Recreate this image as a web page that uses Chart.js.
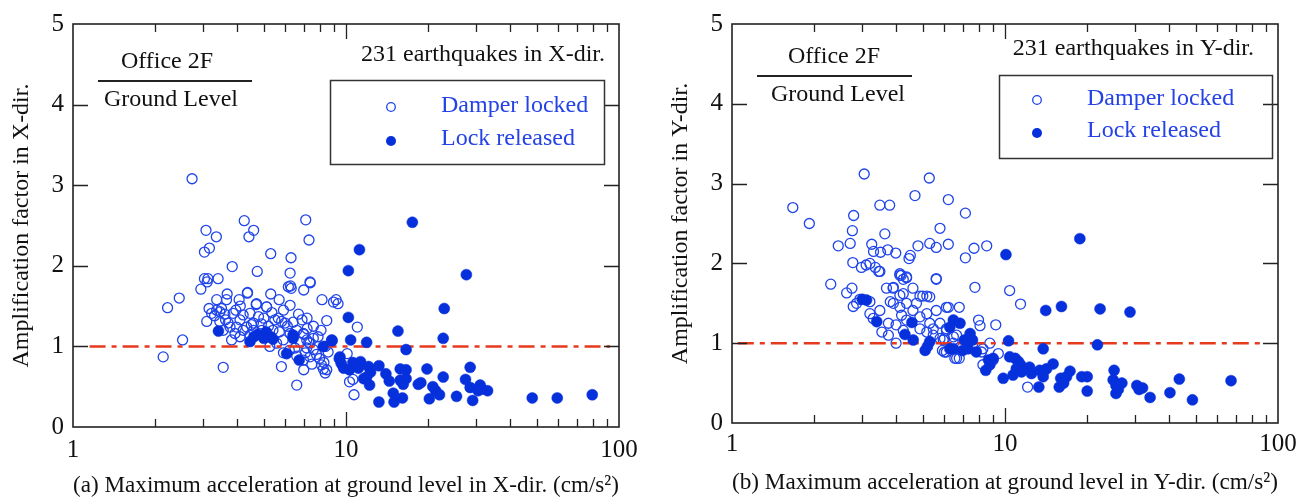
<!DOCTYPE html>
<html>
<head>
<meta charset="utf-8">
<script src="https://cdn.jsdelivr.net/npm/chart.js@4.4.1/dist/chart.umd.min.js"></script>
<style>
  html, body { margin: 0; padding: 0; background: #fff; }
  canvas { position: absolute; top: 0; }
  #chartX { left: 0; }
  #chartY { left: 655px; }
</style>
</head>
<body>
<canvas id="chartX" width="655" height="500"></canvas>
<canvas id="chartY" width="654" height="500"></canvas>
<script>
// [max ground acceleration (cm/s2), amplification factor]
const lockedX = [
    [2.73,3.08],[4.24,2.56],[7.12,2.57],[3.07,2.44],[3.35,2.36],[4.59,2.44],[4.41,2.36],[7.32,2.32],[3.16,2.22],[3.03,2.17],
    [5.30,2.15],[6.29,2.10],[3.83,1.99],[4.73,1.93],[6.24,1.91],[3.03,1.84],[3.12,1.84],[3.40,1.84],[3.10,1.80],[2.94,1.71],
    [6.26,1.75],[6.30,1.72],[7.38,1.80],[7.00,1.70],[2.45,1.60],[2.22,1.48],[3.67,1.65],[3.36,1.58],[3.65,1.58],[4.06,1.58],
    [4.36,1.67],[5.30,1.65],[5.69,1.58],[4.69,1.52],[5.12,1.49],[6.24,1.51],[8.17,1.58],[9.00,1.55],[9.20,1.58],[9.35,1.53],
    [2.52,1.08],[2.14,0.87],[3.55,0.74],[6.60,0.52],[3.09,1.31],[3.15,1.47],[3.22,1.41],[3.36,1.45],[3.45,1.43],[3.50,1.47],
    [3.45,1.31],[3.62,1.33],[3.70,1.29],[3.81,1.08],[3.86,1.41],[3.97,1.24],[4.09,1.33],[4.20,1.39],[4.33,1.24],[4.45,1.41],
    [4.58,1.29],[4.78,1.37],[4.92,1.20],[5.12,1.49],[4.70,1.53],[4.35,1.66],[5.49,1.33],[5.65,1.35],[5.81,1.31],[5.98,1.29],
    [5.57,1.04],[5.89,1.08],[6.24,1.16],[6.60,1.20],[6.98,1.16],[7.18,1.08],[7.38,1.04],[7.59,1.10],[7.18,0.98],[7.59,0.96],
    [7.38,0.87],[6.98,0.83],[5.80,0.75],[7.00,0.71],[8.13,0.77],[8.26,0.72],[8.39,0.67],[6.15,1.74],[8.50,1.32],[3.55,1.20],
    [3.76,1.24],[3.92,1.16],[4.20,1.20],[4.58,1.20],[4.09,1.12],[4.45,1.14],[5.26,1.00],[7.00,1.15],[7.30,1.05],[7.80,0.90],
    [8.00,0.85],[8.30,0.80],[7.20,1.22],[7.90,1.12],[8.40,1.00],[7.50,0.78],[8.60,0.93],[10.1,0.91],[10.3,0.56],[10.6,0.59],
    [10.7,0.40],[11.0,1.24],[8.50,0.71],[7.40,1.79],[4.90,1.28],[5.20,1.25],[5.40,1.20],[5.70,1.18],[6.10,1.25],[6.40,1.30],
    [6.80,1.05],[6.50,0.98],[6.20,0.95],[5.90,0.92],[6.60,0.88],[7.10,0.92],[3.30,1.38],[3.60,1.40],[3.95,1.45],[4.10,1.50],
    [4.50,1.27],[5.00,1.35],[5.35,1.42],[5.90,1.45],[6.70,1.40],[6.90,1.33],[7.60,1.25],[8.10,1.20],[7.20,1.35]
];
const releasedX = [
    [17.5,2.54],[11.2,2.20],[10.2,1.94],[27.6,1.89],[22.9,1.47],[10.2,1.36],[15.5,1.19],[22.7,1.10],[8.89,1.07],[10.4,1.08],
    [11.9,1.05],[16.6,0.96],[9.50,0.87],[9.60,0.79],[10.6,0.80],[11.3,0.81],[11.1,0.73],[12.1,0.75],[13.2,0.76],[12.3,0.68],
    [9.80,0.73],[10.3,0.71],[11.6,0.60],[11.9,0.62],[12.2,0.52],[14.0,0.66],[14.4,0.57],[15.8,0.72],[16.6,0.71],[15.8,0.58],
    [16.6,0.60],[16.2,0.53],[14.9,0.42],[16.1,0.36],[15.0,0.31],[13.2,0.31],[18.4,0.53],[18.8,0.55],[19.8,0.72],[20.8,0.50],
    [21.3,0.45],[22.0,0.40],[20.2,0.35],[22.7,0.62],[25.4,0.38],[27.4,0.59],[28.5,0.74],[28.5,0.49],[29.1,0.33],[31.0,0.52],
    [31.5,0.47],[33.0,0.45],[30.5,0.45],[48.1,0.36],[59.4,0.36],[79.8,0.40],[3.41,1.19],[4.45,1.06],[4.75,1.15],[5.10,1.18],
    [5.30,1.12],[5.40,1.09],[6.40,1.14],[6.40,1.10],[6.06,0.91],[6.74,0.83],[8.87,1.08],[8.26,1.00],[9.45,0.85],[4.60,1.12],
    [5.00,1.10]
];
const lockedY = [
    [1.67,2.70],[1.92,2.50],[3.05,3.12],[3.48,2.73],[3.78,2.73],[2.79,2.60],[2.76,2.41],[3.63,2.37],[2.45,2.22],[2.71,2.25],
    [3.25,2.24],[3.30,2.15],[3.50,2.14],[3.72,2.17],[3.98,2.13],[2.77,2.01],[2.98,1.95],[3.10,1.98],[3.20,2.00],[3.35,1.95],
    [3.45,1.90],[2.30,1.74],[2.63,1.63],[2.75,1.69],[3.68,1.69],[3.89,1.69],[4.12,1.87],[5.28,3.07],[4.68,2.85],[6.20,2.80],
    [7.16,2.63],[5.78,2.44],[4.80,2.22],[5.30,2.25],[5.60,2.20],[6.20,2.24],[7.70,2.19],[8.57,2.22],[7.16,2.07],[4.50,2.10],
    [4.45,2.06],[3.48,1.90],[4.17,1.85],[4.36,1.82],[4.24,1.80],[5.60,1.80],[7.76,1.70],[10.4,1.66],[4.60,1.69],[11.4,1.49],
    [9.25,1.23],[8.00,1.29],[8.10,1.22],[6.80,1.45],[6.20,1.45],[2.78,1.46],[2.86,1.50],[2.94,1.55],[3.20,1.52],[3.20,1.37],
    [3.29,1.31],[3.48,1.41],[3.54,1.14],[3.74,1.10],[3.74,1.25],[3.99,1.00],[3.90,1.70],[4.12,1.60],[4.24,1.62],[4.88,1.59],
    [5.00,1.59],[5.17,1.59],[5.30,1.58],[5.60,1.81],[4.12,1.85],[4.36,1.83],[5.60,1.41],[6.10,1.45],[5.78,1.25],[5.46,1.18],
    [6.10,1.18],[5.90,0.91],[6.10,0.89],[6.65,0.81],[3.80,1.52],[3.90,1.50],[4.12,1.45],[4.36,1.50],[4.60,1.41],[4.74,1.50],
    [4.88,1.33],[5.17,1.37],[5.30,1.25],[4.18,1.35],[4.36,1.29],[3.99,1.23],[4.24,1.16],[4.88,1.18],[5.17,1.14],[5.46,1.10],
    [5.78,1.06],[6.00,1.06],[6.47,1.08],[6.47,1.00],[6.84,0.95],[6.10,1.16],[6.65,1.10],[6.55,0.81],[6.80,0.81],[6.00,0.89],
    [8.20,0.89],[8.30,0.73],[9.05,0.79],[9.45,0.87],[12.1,0.45],[8.80,1.00],[7.60,0.98],[8.30,0.93],[5.94,1.04]
];
const releasedY = [
    [10.08,2.11],[18.8,2.31],[14.1,1.41],[16.1,1.46],[22.3,1.43],[28.7,1.39],[10.3,1.03],[13.8,0.93],[21.8,0.98],[3.11,1.54],
    [3.00,1.55],[3.39,1.27],[4.30,1.11],[4.56,1.26],[4.61,1.04],[5.10,0.91],[5.20,0.96],[5.30,1.02],[6.47,1.29],[6.28,0.93],
    [6.84,1.25],[6.28,1.20],[7.45,1.12],[7.60,1.04],[7.33,0.93],[6.47,0.93],[7.00,0.91],[7.85,0.89],[7.10,1.04],[8.70,0.79],
    [9.05,0.81],[8.50,0.66],[8.80,0.73],[9.85,0.56],[10.4,0.83],[10.9,0.81],[11.2,0.77],[11.4,0.73],[10.7,0.60],[11.5,0.64],
    [11.0,0.68],[13.3,0.45],[12.3,0.70],[12.5,0.62],[13.4,0.66],[13.8,0.58],[14.2,0.68],[15.0,0.74],[13.8,0.64],[17.3,0.65],
    [16.8,0.58],[16.0,0.56],[15.8,0.45],[16.4,0.50],[19.1,0.58],[20.0,0.58],[20.0,0.40],[25.1,0.66],[24.9,0.54],[25.5,0.37],
    [26.8,0.50],[26.0,0.42],[25.5,0.47],[30.4,0.47],[31.9,0.44],[31.0,0.42],[34.0,0.32],[40.2,0.38],[43.5,0.55],[48.6,0.29],
    [67.3,0.53]
];
const refLineX = [1.15, 92.7];
const refLineY = [1.05, 89.6];
const xTickLabels = [1, 10, 100];
const minorTicks = [2,3,4,5,6,7,8,9,10,20,30,40,50,60,70,80,90];
const yTicks = [1, 2, 3, 4];

const SERIF = '"Liberation Serif", "Times New Roman", serif';
const BLUE_OPEN = '#1f44ea';
const BLUE_FILL = '#0630dc';
const RED = '#e63a1e';

const toPts = arr => arr.map(p => ({ x: p[0], y: p[1] }));

// frame, inward ticks and the text boxes drawn on the plot
const decor = {
    id: 'decor',
    afterDraw(chart, args, o) {
        const ctx = chart.ctx;
        const { left, right, top, bottom } = chart.chartArea;
        const xs = chart.scales.x, ys = chart.scales.y;
        ctx.save();
        ctx.strokeStyle = '#222';
        ctx.lineWidth = 1.3;
        ctx.beginPath();
        minorTicks.forEach(v => {
            const px = Math.round(xs.getPixelForValue(v)) + 0.5;
            const len = v === 10 ? 15 : 8;
            ctx.moveTo(px, bottom); ctx.lineTo(px, bottom - len);
            ctx.moveTo(px, top); ctx.lineTo(px, top + len);
        });
        yTicks.forEach(v => {
            const py = Math.round(ys.getPixelForValue(v)) + 0.5;
            ctx.moveTo(left, py); ctx.lineTo(left + 15, py);
            ctx.moveTo(right, py); ctx.lineTo(right - 15, py);
        });
        ctx.stroke();
        ctx.lineWidth = 1.6;
        ctx.strokeRect(left, top, right - left, bottom - top);

        ctx.font = '24px ' + SERIF;
        ctx.fillStyle = '#111';
        ctx.textBaseline = 'middle';
        ctx.textAlign = 'center';
        ctx.fillText('Office 2F', o.ratio.x, o.ratio.y);
        ctx.lineWidth = 2;
        ctx.beginPath();
        ctx.moveTo(o.ratio.x1, o.ratio.ly); ctx.lineTo(o.ratio.x2, o.ratio.ly);
        ctx.stroke();
        ctx.fillText('Ground Level', o.ratio.x + 4, o.ratio.y + 38);
        ctx.textAlign = 'right';
        ctx.fillText(o.count.text, o.count.x, o.count.y);

        const b = o.box;
        ctx.lineWidth = 1.5;
        ctx.strokeStyle = '#333';
        ctx.strokeRect(b.x + 0.5, b.y + 0.5, b.w, b.h);
        ctx.strokeStyle = BLUE_OPEN;
        ctx.lineWidth = 1.3;
        ctx.beginPath();
        ctx.arc(b.x + b.mx, b.y + b.r1, 4.3, 0, Math.PI * 2);
        ctx.stroke();
        ctx.fillStyle = BLUE_FILL;
        ctx.beginPath();
        ctx.arc(b.x + b.mx, b.y + b.r2, 5, 0, Math.PI * 2);
        ctx.fill();
        ctx.fillStyle = '#2442e6';
        ctx.textAlign = 'left';
        ctx.fillText('Damper locked', b.x + b.tx, b.y + b.r1 - 1);
        ctx.fillText('Lock released', b.x + b.tx, b.y + b.r2 - 2);
        ctx.restore();
    }
};

function makeChart(id, locked, released, refX, dir, letter, geo) {
    return new Chart(document.getElementById(id), {
        type: 'scatter',
        data: {
            datasets: [
                {
                    label: 'Lock released',
                    data: toPts(released),
                    pointRadius: 5.5,
                    pointBackgroundColor: BLUE_FILL,
                    pointBorderColor: BLUE_FILL,
                    pointBorderWidth: 0.5,
                    order: 0
                },
                {
                    type: 'line',
                    label: 'ratio 1',
                    data: refX.map(x => ({ x: x, y: 1 })),
                    borderColor: RED,
                    borderWidth: 2.5,
                    borderDash: [16, 6, 5, 6],
                    pointRadius: 0,
                    order: 1
                },
                {
                    label: 'Damper locked',
                    data: toPts(locked),
                    pointRadius: 5,
                    pointBackgroundColor: 'rgba(255,255,255,0)',
                    pointBorderColor: BLUE_OPEN,
                    pointBorderWidth: 1.3,
                    order: 2
                }
            ]
        },
        options: {
            responsive: false,
            animation: false,
            events: [],
            layout: { padding: { top: geo.top, right: geo.right, left: 0, bottom: 0 } },
            plugins: {
                legend: { display: false },
                tooltip: { enabled: false },
                decor: geo.decor
            },
            scales: {
                x: {
                    type: 'logarithmic',
                    min: 1,
                    max: 100,
                    afterBuildTicks: s => { s.ticks = xTickLabels.map(v => ({ value: v })); },
                    afterFit: s => { s.height = geo.xh; },
                    grid: { display: false, drawTicks: false },
                    border: { display: false },
                    ticks: {
                        color: '#111',
                        font: { family: SERIF, size: 25 },
                        padding: geo.xpad,
                        maxRotation: 0,
                        autoSkip: false,
                        callback: v => String(v)
                    },
                    title: {
                        display: true,
                        text: letter + ' Maximum acceleration at ground level in ' + dir + '-dir. (cm/s²)',
                        color: '#111',
                        font: { family: SERIF, size: 24 },
                        padding: { top: 0, bottom: geo.tpad }
                    }
                },
                y: {
                    min: 0,
                    max: 5,
                    afterFit: s => { s.width = geo.yw; },
                    grid: { display: false, drawTicks: false },
                    border: { display: false },
                    ticks: {
                        stepSize: 1,
                        color: '#111',
                        font: { family: SERIF, size: 25 },
                        padding: 9
                    },
                    title: {
                        display: true,
                        text: 'Amplification factor in ' + dir + '-dir.',
                        color: '#111',
                        font: { family: SERIF, size: 24 },
                        padding: { top: geo.ytpad, bottom: 0 }
                    }
                }
            }
        },
        plugins: [decor]
    });
}

makeChart('chartX', lockedX, releasedX, refLineX, 'X', '(a)', {
    top: 24, right: 36, xh: 73, yw: 73, xpad: 8, tpad: 0, ytpad: 7,
    decor: {
        ratio: { x: 167, y: 62, x1: 98, x2: 252, ly: 81 },
        count: { text: '231 earthquakes in X-dir.', x: 605, y: 55 },
        box: { x: 330, y: 80, w: 274, h: 84, mx: 61, tx: 111, r1: 27, r2: 61 }
    }
});

makeChart('chartY', lockedY, releasedY, refLineY, 'Y', '(b)', {
    top: 23, right: 31, xh: 77, yw: 77, xpad: 6, tpad: 3, ytpad: 11,
    decor: {
        ratio: { x: 179, y: 57, x1: 102, x2: 257, ly: 76 },
        count: { text: '231 earthquakes in Y-dir.', x: 599, y: 49 },
        box: { x: 344, y: 75, w: 273, h: 83, mx: 38, tx: 88, r1: 25, r2: 58 }
    }
});
</script>
</body>
</html>
